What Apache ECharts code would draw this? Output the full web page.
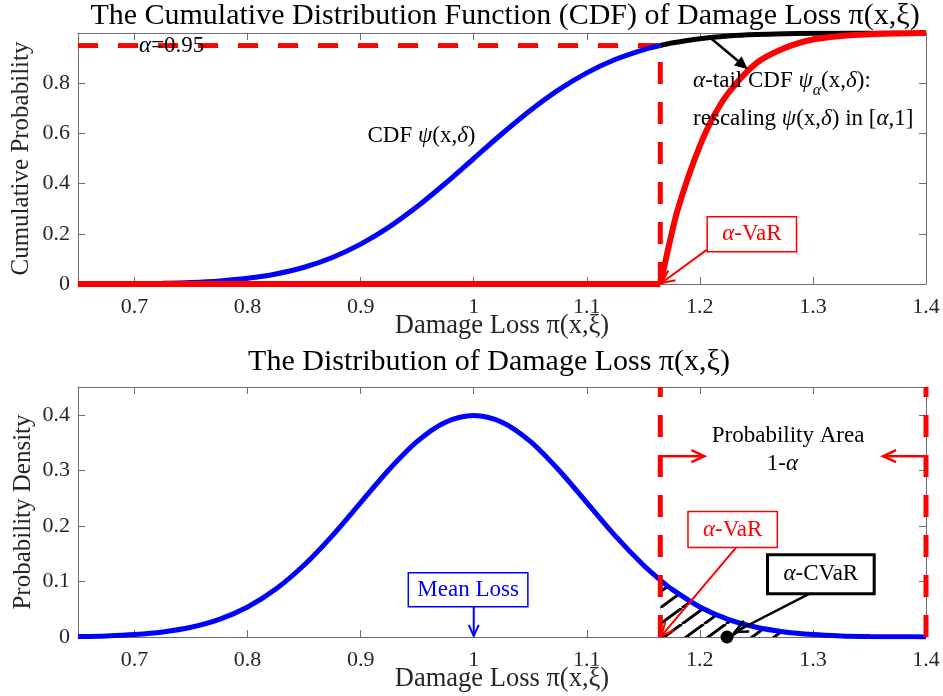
<!DOCTYPE html>
<html><head><meta charset="utf-8">
<script src="https://cdn.jsdelivr.net/npm/echarts@6/dist/echarts.min.js"></script>
<style>html,body{margin:0;padding:0;background:#fff}#c{width:943px;height:696px}</style>
</head><body><div id="c"></div>
<script>
// ---- data ----
const xTicks = [0.7, 0.8, 0.9, 1.0, 1.1, 1.2, 1.3, 1.4];
const cdfYTicks = [0, 0.2, 0.4, 0.6, 0.8];
const pdfYTicks = [0, 0.1, 0.2, 0.3, 0.4];
const lossX = [0.65,0.675,0.7,0.725,0.75,0.775,0.8,0.825,0.85,0.875,0.9,0.925,0.95,0.975,1.0,1.025,1.05,1.075,1.1,1.125,1.15,1.165,1.175,1.2,1.225,1.25,1.275,1.3,1.325,1.35,1.375,1.4];
const cdfVals = [0.0002,0.0006,0.0013,0.003,0.0062,0.0122,0.0228,0.0401,0.0668,0.1056,0.1587,0.2266,0.3085,0.4013,0.5,0.5987,0.6915,0.7734,0.8413,0.8944,0.9332,0.95,0.9599,0.9772,0.9878,0.9938,0.997,0.9987,0.9994,0.9998,0.9999,1.0];
const pdfVals = [0.0009,0.002,0.0044,0.0091,0.0175,0.0317,0.054,0.0863,0.1295,0.1826,0.242,0.3011,0.3521,0.3867,0.3989,0.3867,0.3521,0.3011,0.242,0.1826,0.1295,0.1023,0.0863,0.054,0.0317,0.0175,0.0091,0.0044,0.002,0.0009,0.0004,0.0001];
const tailX = [0.65,1.165,1.17,1.175,1.18,1.19,1.2,1.21,1.225,1.25,1.275,1.3,1.325,1.35,1.375,1.4];
const tailVals = [0,0,0.10,0.20,0.29,0.43,0.55,0.65,0.76,0.88,0.94,0.974,0.988,0.995,0.998,1.0];
const alphaLevel = 0.95;
const varX = 1.165;
const hatchEndX = 1.28;
const cvarPoint = [1.224, 0];
const meanLoss = 1.0;
const xMin = 0.65, xMax = 1.4;

const FONT = '"Liberation Serif", "Times New Roman", serif';
const chart = echarts.init(document.getElementById('c'));

function pairs(xs, ys, f) { const o = []; xs.forEach((x, i) => { if (!f || f(x)) o.push([x, ys[i]]); }); return o; }
const fmt = v => String(Math.round(v * 10) / 10);
const AX = '#6e6e6e', LBL = '#262626';

function xAx(grid, pos, show) {
  return {
    type: 'value', gridIndex: grid, position: pos, min: xMin, max: xMax,
    axisLine: { show: true, onZero: false, lineStyle: { color: AX, width: 1 } },
    axisTick: { show: true, inside: true, length: 7, customValues: xTicks, lineStyle: { color: AX } },
    axisLabel: { show: show, customValues: xTicks, formatter: fmt, fontFamily: FONT, fontSize: 22, color: LBL, margin: 12 },
    splitLine: { show: false },
    name: show ? 'Damage Loss π(x,ξ)' : '', nameLocation: 'middle', nameGap: 29, nameMoveOverlap: false,
    nameTextStyle: { fontFamily: FONT, fontSize: 26.5, color: LBL }
  };
}
function yAx(grid, pos, show, max, ticks, name, gap) {
  return {
    type: 'value', gridIndex: grid, position: pos, min: 0, max: max,
    axisLine: { show: true, onZero: false, lineStyle: { color: AX, width: 1 } },
    axisTick: { show: true, inside: true, length: 7, customValues: ticks, lineStyle: { color: AX } },
    axisLabel: { show: show, customValues: ticks, formatter: fmt, fontFamily: FONT, fontSize: 22, color: LBL, margin: 8 },
    splitLine: { show: false },
    name: show ? name : '', nameLocation: 'middle', nameGap: gap, nameMoveOverlap: false,
    nameTextStyle: { fontFamily: FONT, fontSize: 25, color: LBL }
  };
}

// hatch pattern (lines at ~36 degrees)
const HW = 22, HH = 16;
const pc = document.createElement('canvas'); pc.width = HW; pc.height = HH;
const pg = pc.getContext('2d'); pg.strokeStyle = '#000'; pg.lineWidth = 3;
[-HW, 0, HW].forEach(x0 => { pg.beginPath(); pg.moveTo(x0, HH); pg.lineTo(x0 + HW, 0); pg.stroke(); });

const line = (xi, yi, data, color, w, extra) => Object.assign({
  type: 'line', xAxisIndex: xi, yAxisIndex: yi, data: data, symbol: 'none', smooth: 0.3,
  lineStyle: { color: color, width: w }, silent: true
}, extra || {});

chart.setOption({
  animation: false,
  title: [
    { text: 'The Cumulative Distribution Function (CDF) of Damage Loss π(x,ξ)', left: 500, top: -4, textAlign: 'center',
      textStyle: { fontFamily: FONT, fontSize: 30, fontWeight: 'normal', color: '#000' } },
    { text: 'The Distribution of Damage Loss π(x,ξ)', left: 484, top: 342, textAlign: 'center',
      textStyle: { fontFamily: FONT, fontSize: 30, fontWeight: 'normal', color: '#000' } }
  ],
  grid: [
    { left: 78, right: 17, top: 33, height: 251, outerBoundsMode: 'none', containLabel: false },
    { left: 78, right: 17, top: 387, height: 250, outerBoundsMode: 'none', containLabel: false }
  ],
  xAxis: [xAx(0, 'bottom', true), xAx(0, 'top', false), xAx(1, 'bottom', true), xAx(1, 'top', false)],
  yAxis: [
    yAx(0, 'left', true, 1, cdfYTicks, 'Cumulative Probability', 44), yAx(0, 'right', false, 1, cdfYTicks, '', 0),
    yAx(1, 'left', true, 0.45, pdfYTicks, 'Probability Density', 42), yAx(1, 'right', false, 0.45, pdfYTicks, '', 0)
  ],
  series: [
    // top: CDF
    line(0, 0, [[xMin, alphaLevel], [varX, alphaLevel]], '#ff0000', 5, { smooth: false, lineStyle: { color: '#ff0000', width: 5, type: [20, 20] }, z: 3 }),
    line(0, 0, [[varX, 0], [varX, alphaLevel]], '#ff0000', 5, { smooth: false, lineStyle: { color: '#ff0000', width: 5, type: [22, 18] }, z: 3 }),
    line(0, 0, pairs(lossX, cdfVals, x => x <= varX + 1e-9), '#0000ff', 5, { z: 4 }),
    line(0, 0, pairs(lossX, cdfVals, x => x >= varX - 1e-9), '#000000', 5, { z: 4 }),
    line(0, 0, pairs(tailX, tailVals).slice(0, 2), '#ff0000', 6, { smooth: false, z: 5, clip: false }),
    line(0, 0, pairs(tailX, tailVals).slice(1), '#ff0000', 6, { z: 5 }),
    // bottom: PDF
    line(2, 2, pairs(lossX, pdfVals, x => x >= varX - 1e-9 && x <= hatchEndX), '#000', 0,
      { lineStyle: { width: 0, opacity: 0 }, areaStyle: { color: { image: pc, repeat: 'repeat' }, opacity: 1 }, z: 2 }),
    line(2, 2, pairs(lossX, pdfVals), '#0000ff', 5, { z: 4 }),
    line(2, 2, [[varX, 0], [varX, 0.45]], '#ff0000', 5, { smooth: false, lineStyle: { color: '#ff0000', width: 5, type: [22, 18] }, z: 5, clip: false }),
    line(2, 2, [[xMax, 0], [xMax, 0.45]], '#ff0000', 5, { smooth: false, lineStyle: { color: '#ff0000', width: 5, type: [22, 18] }, z: 5, clip: false }),
    { type: 'scatter', xAxisIndex: 2, yAxisIndex: 2, data: [cvarPoint], symbolSize: 13, itemStyle: { color: '#000', opacity: 1 }, z: 6, silent: true }
  ]
});

// ---- annotations ----
const mctx = document.createElement('canvas').getContext('2d');
function tw(t, size, it) { mctx.font = (it ? 'italic ' : '') + size + 'px "Liberation Serif"'; return mctx.measureText(t).width; }
function seq(x, y, segs, color, size, align) {
  const ws = segs.map(s => tw(s.t, s.s || size, s.i));
  const total = ws.reduce((a, b) => a + b, 0);
  let cx = align === 'center' ? x - total / 2 : x;
  const els = [];
  segs.forEach((s, i) => {
    els.push({ type: 'text', x: cx, y: y + (s.dy || 0), z: 101,
      style: { text: s.t, fill: color, fontFamily: FONT, fontSize: s.s || size, fontStyle: s.i ? 'italic' : 'normal', align: 'left', verticalAlign: 'middle' } });
    cx += ws[i];
  });
  return { els: els, total: total };
}
function box(c, segs, color, size, padX, h, bw) {
  const s = seq(c[0], c[1], segs, color, size, 'center');
  const w = s.total + 2 * padX;
  return [{ type: 'rect', z: 100, shape: { x: c[0] - w / 2, y: c[1] - h / 2, width: w, height: h },
    style: { fill: '#fff', stroke: color, lineWidth: bw } }].concat(s.els);
}
function arrow(a, b, color, w, hl, hw, filled) {
  const dx = b[0] - a[0], dy = b[1] - a[1], L = Math.hypot(dx, dy), ux = dx / L, uy = dy / L;
  const bx = b[0] - ux * hl, by = b[1] - uy * hl;
  const p1 = [bx - uy * hw, by + ux * hw], p2 = [bx + uy * hw, by - ux * hw];
  return [
    { type: 'line', z: 100, shape: { x1: a[0], y1: a[1], x2: filled ? bx : b[0], y2: filled ? by : b[1] }, style: { stroke: color, lineWidth: w } },
    filled ? { type: 'polygon', z: 100, shape: { points: [p1, b, p2] }, style: { fill: color } }
           : { type: 'polyline', z: 100, shape: { points: [p1, b, p2] }, style: { stroke: color, lineWidth: w, fill: null } }
  ];
}
const P0 = (x, y) => chart.convertToPixel({ gridIndex: 0 }, [x, y]);
const P1 = (x, y) => chart.convertToPixel({ gridIndex: 1 }, [x, y]);
const A = { t: 'α', i: 1 };
let g = [];
let p;
p = P0(0.704, alphaLevel); g = g.concat(seq(p[0], p[1], [A, { t: '=0.95' }], '#000', 23).els);
p = P0(0.906, 0.588); g = g.concat(seq(p[0], p[1], [{ t: 'CDF ' }, { t: 'ψ', i: 1 }, { t: '(x,' }, { t: 'δ', i: 1 }, { t: ')' }], '#000', 23).els);
g = g.concat(arrow(P0(1.2105, 0.976), P0(1.2424, 0.856), '#000', 2.5, 13, 6, true));
p = P0(1.194, 0.808); g = g.concat(seq(p[0], p[1], [A, { t: '-tail CDF ' }, { t: 'ψ', i: 1 }, { t: 'α', i: 1, s: 16, dy: 10 }, { t: '(x,' }, { t: 'δ', i: 1 }, { t: '):' }], '#000', 23).els);
p = P0(1.194, 0.656); g = g.concat(seq(p[0], p[1], [{ t: 'rescaling ' }, { t: 'ψ', i: 1 }, { t: '(x,' }, { t: 'δ', i: 1 }, { t: ') in [' }, A, { t: ',1]' }], '#000', 23).els);
g = g.concat(arrow(P0(1.206, 0.136), P0(varX + 0.001, 0.004), '#ff0000', 2, 13, 6, false));
g = g.concat(box(P0(1.246, 0.198), [A, { t: '-VaR' }], '#ff0000', 23, 15, 35, 1.5));

p = P1(1.278, 0.362); g = g.concat(seq(p[0], p[1], [{ t: 'Probability Area' }], '#000', 23, 'center').els);
p = P1(1.273, 0.311); g = g.concat(seq(p[0], p[1], [{ t: '1-' }, A], '#000', 23, 'center').els);
g = g.concat(arrow(P1(varX + 0.001, 0.3255), P1(1.204, 0.3255), '#ff0000', 2.5, 13, 6, false));
g = g.concat(arrow(P1(xMax, 0.3255), P1(1.362, 0.3255), '#ff0000', 2.5, 13, 6, false));
g = g.concat(arrow(P1(1.232, 0.161), P1(varX + 0.001, 0.002), '#ff0000', 2, 13, 6, false));
g = g.concat(box(P1(1.229, 0.1935), [A, { t: '-VaR' }], '#ff0000', 23, 15, 36, 1.5));
g = g.concat(arrow(P1(1.297, 0.078), P1(cvarPoint[0] + 0.007, 0.009), '#000', 2.5, 13, 6, false));
g = g.concat(box(P1(1.307, 0.113), [A, { t: '-CVaR' }], '#000', 23, 16, 39, 3));
g = g.concat(arrow(P1(meanLoss, 0.054), P1(meanLoss, 0.002), '#0000ff', 2, 11, 5, false));
g = g.concat(box(P1(0.995, 0.085), [{ t: 'Mean Loss' }], '#0000ff', 23, 9, 34, 1.5));
chart.setOption({ graphic: g });
</script></body></html>
